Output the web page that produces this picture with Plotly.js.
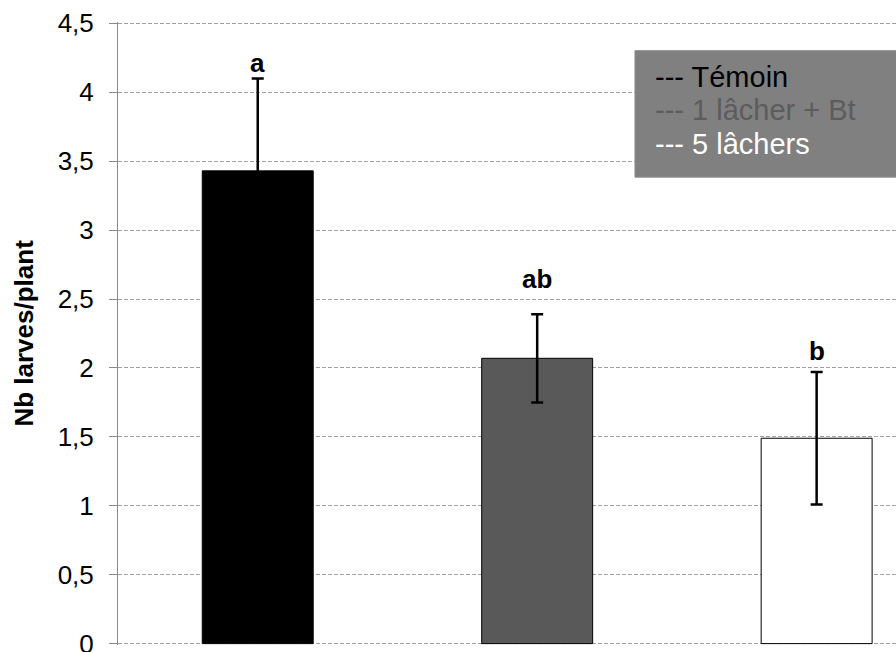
<!DOCTYPE html>
<html>
<head>
<meta charset="utf-8">
<script src="https://cdn.plot.ly/plotly-3.0.1.min.js"></script>
<style>
  html, body { margin: 0; padding: 0; background: #fff; }
  #chart { width: 896px; height: 652px; }
</style>
</head>
<body>
<div id="chart"></div>
<script>
// ---- data ----
const categories = ["Témoin", "1 lâcher + Bt", "5 lâchers"];
const means = [3.43, 2.07, 1.49];
const errors = [0.67, 0.32, 0.48];
const letters = ["a", "ab", "b"];
const letterY = [4.21, 2.645, 2.12];
const barColors = ["#000000", "#595959", "#ffffff"];
const legendColors = ["#000000", "#5c5c5c", "#ffffff"];
const tickVals = [0, 0.5, 1, 1.5, 2, 2.5, 3, 3.5, 4, 4.5];
const tickText = ["0", "0,5", "1", "1,5", "2", "2,5", "3", "3,5", "4", "4,5"];
const yTitle = "Nb larves/plant";

const FONT = "Liberation Sans, Arial, sans-serif";

const trace = {
  type: "bar",
  x: categories,
  y: means,
  marker: { color: barColors, line: { color: "#000000", width: 1 } },
  error_y: { type: "data", array: errors, visible: true, color: "#000000", thickness: 2.5, width: 6 },
  hoverinfo: "skip"
};

const annotations = letters.map((t, i) => ({
  x: categories[i], y: letterY[i], xref: "x", yref: "y",
  text: "<b>" + t + "</b>", showarrow: false,
  xanchor: "center", yanchor: "middle",
  font: { family: FONT, size: 26, color: "#000000" }
}));

const legendY = [0.912, 0.858, 0.804];
categories.forEach((c, i) => {
  annotations.push({
    x: 0.6877, y: legendY[i], xref: "paper", yref: "paper",
    text: "--- " + c, showarrow: false,
    xanchor: "left", yanchor: "middle",
    font: { family: FONT, size: 29, color: legendColors[i] }
  });
});

// y-axis title (placed as rotated annotation for exact position)
annotations.push({
  x: -0.122, y: 0.5, xref: "paper", yref: "paper",
  text: "<b>" + yTitle + "</b>", showarrow: false, textangle: -90,
  xanchor: "center", yanchor: "middle",
  font: { family: FONT, size: 26, color: "#000000" }
});

const layout = {
  width: 896, height: 652,
  margin: { l: 118, r: 0, t: 22, b: 7, pad: 0 },
  paper_bgcolor: "#ffffff", plot_bgcolor: "#ffffff",
  showlegend: false,
  bargap: 0.603,
  separators: ", ",
  font: { family: FONT, color: "#000000" },
  xaxis: {
    range: [-0.5, 2.284],
    showticklabels: false, showgrid: false, zeroline: false, showline: false,
    ticks: "", fixedrange: true
  },
  yaxis: {
    range: [-0.01, 4.51],
    tickvals: tickVals, ticktext: tickText,
    tickfont: { family: FONT, size: 26, color: "#000000" },
    ticklabeloverflow: "allow",
    showline: true, linecolor: "#8a8a8a", linewidth: 1,
    ticks: "outside", ticklen: 8, tickcolor: "#8a8a8a", tickwidth: 1,
    ticklabelstandoff: 10,
    showgrid: true, gridcolor: "#a0a0a0", gridwidth: 1, griddash: "4px,2px",
    zeroline: false,
    automargin: false
  },
  shapes: [{
    type: "rect", xref: "paper", yref: "paper",
    x0: 0.6645, x1: 1.05, y0: 0.751, y1: 0.954,
    fillcolor: "#808080", line: { color: "#8c8c8c", width: 1 }, layer: "above"
  }],
  annotations: annotations
};

Plotly.newPlot("chart", [trace], layout, { displayModeBar: false, staticPlot: true });
</script>
</body>
</html>
